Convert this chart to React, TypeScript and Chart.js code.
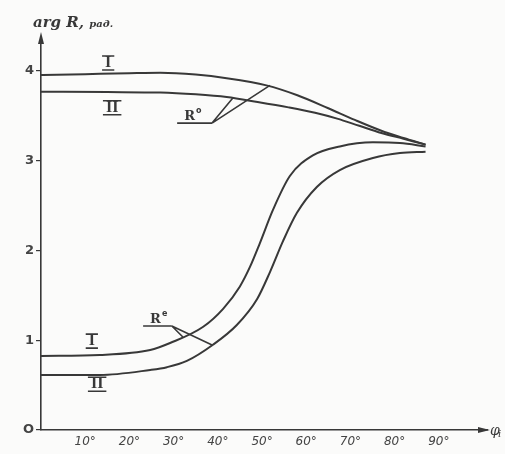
import { useEffect, useRef } from "react";
import { Chart, registerables } from "chart.js";

Chart.register(...registerables);

// Axis ticks
const xTickValues = [10, 20, 30, 40, 50, 60, 70, 80, 90];
const yTickValues = [0, 1, 2, 3, 4];

// Upper pair of curves (Rº): angle (deg) -> arg R (rad)
const upperIX = [0, 10, 20, 27, 35, 42, 51, 58, 65, 71, 77, 82, 87];
const upperIY = [3.955, 3.965, 3.975, 3.98, 3.96, 3.92, 3.84, 3.73, 3.585, 3.455, 3.335, 3.255, 3.18];
const upperIIX = [0, 15, 27, 35, 42, 49, 56, 62, 67, 72, 77, 82, 87];
const upperIIY = [3.77, 3.765, 3.76, 3.74, 3.71, 3.655, 3.595, 3.535, 3.47, 3.39, 3.31, 3.245, 3.18];

// Lower pair of curves (Rᵉ)
const lowerIX = [0, 13.3, 24.7, 29.2, 36.7, 41.2, 45, 47.3, 49.5, 52.5, 56.3, 61.5, 67.6, 75.1, 81.2, 87];
const lowerIY = [0.825, 0.836, 0.891, 0.969, 1.15, 1.35, 1.6, 1.82, 2.08, 2.455, 2.83, 3.06, 3.16, 3.205, 3.198, 3.16];
const lowerIIX = [0, 13.3, 24.7, 28.5, 33, 38.9, 44.3, 48.9, 51.8, 54.8, 57.9, 62.4, 67.6, 75.1, 81.2, 87];
const lowerIIY = [0.613, 0.613, 0.669, 0.7, 0.77, 0.95, 1.17, 1.46, 1.76, 2.11, 2.42, 2.708, 2.897, 3.031, 3.086, 3.1];

// Curve labels (data units)
const romanText = ["I", "II", "I", "II"];
const romanX = [15.2, 16.1, 11.5, 12.7];
const romanY = [4.09, 3.59, 0.99, 0.51];

// Leader labels: underline start, underline end, targets
const leaderText = ["R", "R"];
const leaderSup = ["o", "e"];
const leaderStartX = [30.8, 23.1];
const leaderEndX = [38.7, 29.6];
const leaderY = [3.42, 1.159];
const leaderTargetsX = [[43.4, 51.8], [32.1, 38.7]];
const leaderTargetsY = [[3.7, 3.84], [1.036, 0.947]];

const X_MAX = 100.9;
const Y_MAX = 4.368;
const INK = "#383838";

function pts(xs: number[], ys: number[]) {
  return xs.map((x, i) => ({ x, y: ys[i] }));
}

const annotPlugin = {
  id: "annot",
  beforeDraw(chart: any) {
    const { ctx, width, height } = chart;
    ctx.save();
    ctx.fillStyle = "#fbfbfa";
    ctx.fillRect(0, 0, width, height);
    ctx.restore();
  },
  afterDraw(chart: any) {
    const { ctx, chartArea } = chart;
    const xs = chart.scales.x;
    const ys = chart.scales.y;
    ctx.save();
    ctx.strokeStyle = INK;
    ctx.fillStyle = INK;

    // arrowheads
    const ax = chartArea.left;
    const top = chartArea.top;
    ctx.beginPath();
    ctx.moveTo(ax, top - 6);
    ctx.lineTo(ax - 3, top + 6);
    ctx.lineTo(ax + 3, top + 6);
    ctx.closePath();
    ctx.fill();
    const by = chartArea.bottom;
    const right = chartArea.right;
    ctx.beginPath();
    ctx.moveTo(right + 3, by);
    ctx.lineTo(right - 9, by - 3);
    ctx.lineTo(right - 9, by + 3);
    ctx.closePath();
    ctx.fill();

    // axis titles
    ctx.textBaseline = "alphabetic";
    ctx.textAlign = "left";
    ctx.font = "italic bold 15px 'DejaVu Serif'";
    ctx.fillText("arg R,", 33, 27);
    const w = ctx.measureText("arg R, ").width;
    ctx.font = "italic bold 10px 'DejaVu Serif'";
    ctx.fillText("рад.", 33 + w, 27);

    ctx.font = "italic 14px 'DejaVu Serif'";
    ctx.fillText("φ", right + 3, by + 5);
    ctx.font = "italic 10px 'DejaVu Serif'";
    ctx.fillText("i", right + 11, by + 7);

    // roman numerals with bars
    ctx.textAlign = "center";
    ctx.textBaseline = "middle";
    romanText.forEach((t, i) => {
      const px = xs.getPixelForValue(romanX[i]);
      const py = ys.getPixelForValue(romanY[i]);
      ctx.font = "bold 16px 'Liberation Serif'";
      ctx.fillText(t, px, py);
      const tw = ctx.measureText(t).width + 6;
      ctx.lineWidth = 1.6;
      ctx.beginPath();
      ctx.moveTo(px - tw / 2, py - 7);
      ctx.lineTo(px + tw / 2, py - 7);
      ctx.moveTo(px - tw / 2, py + 7);
      ctx.lineTo(px + tw / 2, py + 7);
      ctx.stroke();
    });

    // leader labels
    leaderText.forEach((t, i) => {
      const x0 = xs.getPixelForValue(leaderStartX[i]);
      const x1 = xs.getPixelForValue(leaderEndX[i]);
      const yl = ys.getPixelForValue(leaderY[i]);
      ctx.lineWidth = 1.6;
      ctx.beginPath();
      ctx.moveTo(x0, yl);
      ctx.lineTo(x1, yl);
      leaderTargetsX[i].forEach((tx, j) => {
        ctx.moveTo(x1, yl);
        ctx.lineTo(xs.getPixelForValue(tx), ys.getPixelForValue(leaderTargetsY[i][j]));
      });
      ctx.stroke();
      ctx.textAlign = "left";
      ctx.textBaseline = "alphabetic";
      ctx.font = "bold 13px 'DejaVu Serif'";
      const lx = x0 + 7;
      ctx.fillText(t, lx, yl - 3);
      const rw = ctx.measureText(t).width;
      ctx.font = "bold 8px 'DejaVu Sans'";
      ctx.fillText(leaderSup[i], lx + rw + 1, yl - 10);
    });
    ctx.restore();
  },
};

export default function App() {
  const ref = useRef<HTMLCanvasElement | null>(null);
  useEffect(() => {
    if (!ref.current) return;
    const lineStyle = {
      borderColor: INK,
      borderWidth: 2,
      pointRadius: 0,
      fill: false,
      cubicInterpolationMode: "monotone" as const,
    };
    const chart = new Chart(ref.current, {
      type: "line",
      data: {
        datasets: [
          { label: "Rº I", data: pts(upperIX, upperIY), ...lineStyle },
          { label: "Rº II", data: pts(upperIIX, upperIIY), ...lineStyle },
          { label: "Rᵉ I", data: pts(lowerIX, lowerIY), ...lineStyle },
          { label: "Rᵉ II", data: pts(lowerIIX, lowerIIY), ...lineStyle },
        ],
      },
      options: {
        animation: false,
        responsive: false,
        devicePixelRatio: 1,
        layout: { padding: { top: 38, right: 18, left: 0, bottom: 0 } },
        plugins: { legend: { display: false }, tooltip: { enabled: false } },
        scales: {
          x: {
            type: "linear",
            min: 0,
            max: X_MAX,
            afterBuildTicks: (axis: any) => {
              axis.ticks = xTickValues.map((v) => ({ value: v }));
            },
            afterFit: (scale: any) => {
              scale.height = 24;
            },
            grid: { display: false, drawTicks: false },
            border: { display: true, color: INK, width: 1.6 },
            ticks: {
              padding: 5,
              color: "#444",
              font: { family: "'DejaVu Sans'", size: 12, style: "italic" },
              callback: (v: any) => `${v}°`,
              maxRotation: 0,
              autoSkip: false,
            },
          },
          y: {
            type: "linear",
            min: 0,
            max: Y_MAX,
            afterBuildTicks: (axis: any) => {
              axis.ticks = yTickValues.map((v) => ({ value: v }));
            },
            afterFit: (scale: any) => {
              scale.width = 41;
            },
            grid: {
              display: true,
              drawOnChartArea: false,
              drawTicks: true,
              tickLength: 5,
              color: INK,
              lineWidth: 1.2,
            },
            border: { display: true, color: INK, width: 1.6 },
            ticks: {
              padding: 2,
              color: "#444",
              font: { family: "'DejaVu Sans'", size: 13, weight: "bold" },
              callback: (v: any) => (v === 0 ? "O" : `${v}`),
            },
          },
        },
      },
      plugins: [annotPlugin],
    });
    return () => chart.destroy();
  }, []);
  return (
    <div style={{ position: "fixed", left: 0, top: 0, width: 505, height: 454 }}>
      <canvas ref={ref} width={505} height={454} style={{ display: "block", width: 505, height: 454 }} />
    </div>
  );
}
